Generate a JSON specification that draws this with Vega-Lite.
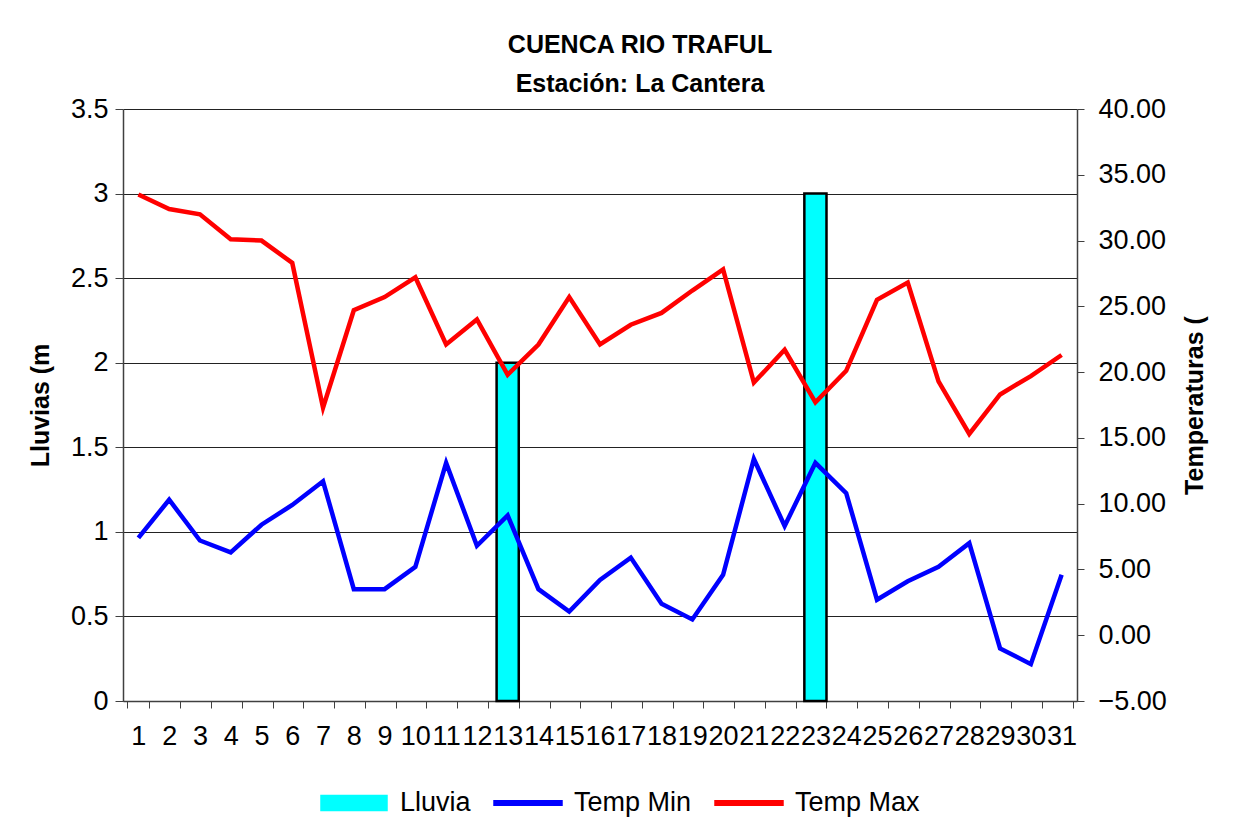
{
  "$schema": "https://vega.github.io/schema/vega-lite/v6.json",
  "width": 954,
  "height": 592,
  "autosize": {"type": "none"},
  "padding": {"left": 123, "top": 109, "right": 177, "bottom": 130},
  "background": "white",
  "config": {
    "view": {"stroke": null},
    "font": "Liberation Sans, Arial, sans-serif"
  },
  "title": {
    "text": ["CUENCA RIO TRAFUL", "Estación: La Cantera"],
    "font": "Liberation Sans, Arial, sans-serif",
    "fontSize": 25,
    "fontWeight": "bold",
    "color": "black",
    "anchor": "middle",
    "dx": 40,
    "lineHeight": 39,
    "offset": -2
  },
  "data": {
    "values": [
      {"dia": 1, "Lluvia": 0, "Temp Min": 7.4, "Temp Max": 33.5},
      {"dia": 2, "Lluvia": 0, "Temp Min": 10.3, "Temp Max": 32.4},
      {"dia": 3, "Lluvia": 0, "Temp Min": 7.2, "Temp Max": 32.0},
      {"dia": 4, "Lluvia": 0, "Temp Min": 6.3, "Temp Max": 30.1},
      {"dia": 5, "Lluvia": 0, "Temp Min": 8.4, "Temp Max": 30.0},
      {"dia": 6, "Lluvia": 0, "Temp Min": 9.9, "Temp Max": 28.3},
      {"dia": 7, "Lluvia": 0, "Temp Min": 11.7, "Temp Max": 17.3},
      {"dia": 8, "Lluvia": 0, "Temp Min": 3.5, "Temp Max": 24.7},
      {"dia": 9, "Lluvia": 0, "Temp Min": 3.5, "Temp Max": 25.7},
      {"dia": 10, "Lluvia": 0, "Temp Min": 5.2, "Temp Max": 27.2},
      {"dia": 11, "Lluvia": 0, "Temp Min": 13.1, "Temp Max": 22.1},
      {"dia": 12, "Lluvia": 0, "Temp Min": 6.8, "Temp Max": 24.0},
      {"dia": 13, "Lluvia": 2, "Temp Min": 9.1, "Temp Max": 19.8},
      {"dia": 14, "Lluvia": 0, "Temp Min": 3.5, "Temp Max": 22.1},
      {"dia": 15, "Lluvia": 0, "Temp Min": 1.8, "Temp Max": 25.7},
      {"dia": 16, "Lluvia": 0, "Temp Min": 4.2, "Temp Max": 22.1},
      {"dia": 17, "Lluvia": 0, "Temp Min": 5.9, "Temp Max": 23.6},
      {"dia": 18, "Lluvia": 0, "Temp Min": 2.4, "Temp Max": 24.5},
      {"dia": 19, "Lluvia": 0, "Temp Min": 1.2, "Temp Max": 26.2},
      {"dia": 20, "Lluvia": 0, "Temp Min": 4.6, "Temp Max": 27.8},
      {"dia": 21, "Lluvia": 0, "Temp Min": 13.4, "Temp Max": 19.2},
      {"dia": 22, "Lluvia": 0, "Temp Min": 8.3, "Temp Max": 21.7},
      {"dia": 23, "Lluvia": 3, "Temp Min": 13.1, "Temp Max": 17.7},
      {"dia": 24, "Lluvia": 0, "Temp Min": 10.8, "Temp Max": 20.1},
      {"dia": 25, "Lluvia": 0, "Temp Min": 2.7, "Temp Max": 25.5},
      {"dia": 26, "Lluvia": 0, "Temp Min": 4.1, "Temp Max": 26.8},
      {"dia": 27, "Lluvia": 0, "Temp Min": 5.2, "Temp Max": 19.3},
      {"dia": 28, "Lluvia": 0, "Temp Min": 7.0, "Temp Max": 15.3},
      {"dia": 29, "Lluvia": 0, "Temp Min": -1.0, "Temp Max": 18.3},
      {"dia": 30, "Lluvia": 0, "Temp Min": -2.2, "Temp Max": 19.7},
      {"dia": 31, "Lluvia": 0, "Temp Min": 4.6, "Temp Max": 21.3}
    ]
  },
  "encoding": {
    "x": {
      "field": "dia",
      "type": "ordinal",
      "scale": {
        "domain": [1,2,3,4,5,6,7,8,9,10,11,12,13,14,15,16,17,18,19,20,21,22,23,24,25,26,27,28,29,30,31],
        "paddingInner": 0.28,
        "paddingOuter": 0.14
      },
      "axis": {
        "title": null,
        "labelAngle": 0,
        "tickBand": "extent",
        "tickSize": 7,
        "tickColor": "#404040",
        "domainColor": "#404040",
        "domainWidth": 1.5,
        "labelFontSize": 27,
        "labelColor": "black",
        "labelPadding": 15,
        "labelOverlap": false,
        "labelFlush": false,
        "labelBound": false,
        "grid": false
      }
    }
  },
  "layer": [
    {
      "transform": [{"filter": "datum.Lluvia > 0"}],
      "mark": {"type": "bar", "stroke": "black", "strokeWidth": 2.5, "opacity": 1},
      "encoding": {
        "y": {
          "field": "Lluvia",
          "type": "quantitative",
          "scale": {"domain": [0, 3.5], "nice": false, "zero": true},
          "axis": {
            "orient": "left",
            "title": "Lluvias (m",
            "values": [0, 0.5, 1, 1.5, 2, 2.5, 3, 3.5],
            "format": "~g",
            "grid": true,
            "gridColor": "#222222",
            "gridWidth": 1,
            "domainColor": "#404040",
            "domainWidth": 1.5,
            "tickColor": "#404040",
            "tickSize": 8,
            "labelFontSize": 27,
            "labelColor": "black",
            "labelPadding": 7,
            "titleFont": "Liberation Sans, Arial, sans-serif",
            "titleFontSize": 25,
            "titleFontWeight": "bold",
            "titleColor": "black",
            "titlePadding": 17
          }
        },
        "color": {
          "datum": "Lluvia",
          "type": "nominal",
          "scale": {"domain": ["Lluvia", "Temp Min", "Temp Max"], "range": ["#00FFFF", "#0000FF", "#FF0000"]},
          "legend": {
            "orient": "none",
            "legendX": 197,
            "legendY": 660,
            "direction": "horizontal",
            "title": null,
            "padding": 0,
            "symbolSize": 4356,
            "symbolType": {"expr": "datum.value === 'Lluvia' ? 'M-1,-0.227H1V0.227H-1Z' : 'M-1.03,-0.065H1.03V0.065H-1.03Z'"},
            "symbolStrokeColor": {"expr": "datum.value === 'Lluvia' ? '#000000' : 'transparent'"},
            "symbolStrokeWidth": 1.5,
            "symbolOpacity": 1,
            "labelFontSize": 27,
            "labelColor": "black",
            "labelOffset": 12,
            "columnPadding": 20,
            "labelLimit": 300,
            "encoding": {
              "symbols": {
                "stroke": {"condition": {"test": "datum.value === 'Lluvia'", "value": "#000000"}, "value": "transparent"},
                "strokeWidth": {"value": 1.5},
                "strokeOpacity": {"value": 1}
              }
            }
          }
        }
      }
    },
    {
      "transform": [{"fold": ["Temp Min", "Temp Max"], "as": ["serie", "temp"]}],
      "mark": {"type": "line", "strokeWidth": 4.5},
      "encoding": {
        "y": {
          "field": "temp",
          "type": "quantitative",
          "scale": {"domain": [-5, 40], "nice": false, "zero": false},
          "axis": {
            "orient": "right",
            "title": "Temperaturas (",
            "titleAngle": 270,
            "titleBaseline": "top",
            "values": [-5, 0, 5, 10, 15, 20, 25, 30, 35, 40],
            "format": ".2f",
            "grid": false,
            "domainColor": "#404040",
            "domainWidth": 1.5,
            "tickColor": "#404040",
            "tickSize": 7,
            "labelFontSize": 27,
            "labelColor": "black",
            "labelPadding": 14,
            "titleFont": "Liberation Sans, Arial, sans-serif",
            "titleFontSize": 25,
            "titleFontWeight": "bold",
            "titleColor": "black",
            "titlePadding": 16
          }
        },
        "color": {
          "field": "serie",
          "type": "nominal",
          "scale": {"domain": ["Lluvia", "Temp Min", "Temp Max"], "range": ["#00FFFF", "#0000FF", "#FF0000"]},
          "legend": null
        }
      }
    }
  ],
  "resolve": {"scale": {"y": "independent"}}
}
